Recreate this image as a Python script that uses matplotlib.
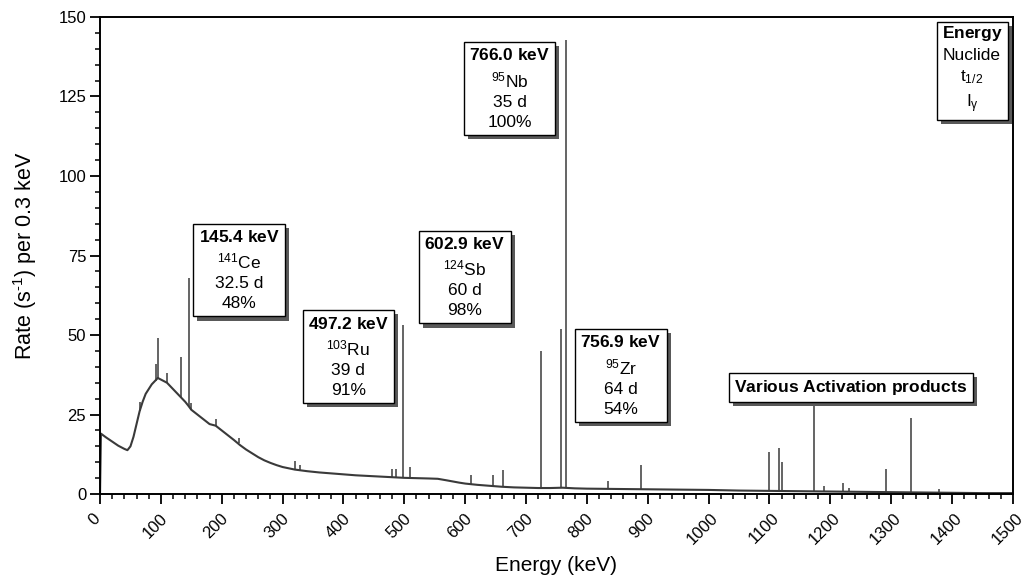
import numpy as np
import matplotlib
matplotlib.use("Agg")
import matplotlib.pyplot as plt
import matplotlib.patheffects as pe
import matplotlib.transforms as mtransforms

plt.rcParams['font.family'] = ['Liberation Sans', 'DejaVu Sans']
plt.rcParams['mathtext.fontset'] = 'custom'
plt.rcParams['mathtext.rm'] = 'Liberation Sans'
plt.rcParams['mathtext.it'] = 'Liberation Sans:italic'
plt.rcParams['mathtext.bf'] = 'Liberation Sans:bold'

# smooth continuum (keV, counts/s per 0.3 keV)
cont_energy = [0, 1.5, 5, 10, 20, 30, 40, 45, 50, 55, 60, 65, 70, 75, 80, 85, 90, 95,
               100, 110, 120, 130, 140, 145, 150, 160, 170, 180, 190, 200, 210, 220,
               230, 240, 250, 260, 270, 280, 290, 300, 320, 340, 360, 380, 400, 420,
               440, 460, 480, 500, 520, 540, 555, 570, 590, 600, 620, 640, 660, 680,
               700, 720, 740, 760, 780, 800, 850, 900, 950, 1000, 1050, 1100, 1150,
               1200, 1250, 1300, 1350, 1400, 1450, 1500]
cont_rate = [0, 19, 18.5, 17.8, 16.5, 15.2, 14.2, 13.8, 15, 18, 22, 26, 29, 31.5, 33,
             34.5, 35.5, 36.5, 36, 35, 33, 31, 29, 27.8, 26.5, 25, 23.5, 22, 21.5, 20,
             18.5, 17, 15.4, 14, 12.8, 11.6, 10.6, 9.8, 9.1, 8.5, 7.7, 7.2, 6.8, 6.5,
             6.2, 5.9, 5.7, 5.5, 5.3, 5.1, 5.0, 4.9, 4.8, 4.3, 3.6, 3.3, 2.9, 2.6, 2.3,
             2.1, 2.0, 1.9, 1.9, 2.0, 1.8, 1.7, 1.6, 1.5, 1.4, 1.3, 1.1, 1.0, 0.9, 0.8,
             0.7, 0.6, 0.5, 0.4, 0.3, 0.3]

# photopeaks: energy, continuum under peak, peak top
peak_energy = [66, 92, 95.5, 110, 133, 145.4, 150, 190, 228, 320, 328, 480, 487,
               497.2, 510, 610, 645, 662, 724.2, 756.9, 766.0, 835, 889, 1099,
               1115.5, 1121, 1173.2, 1189, 1221, 1231, 1292, 1332.5, 1378]
peak_base = [26, 35.5, 36.3, 35, 30.5, 27.8, 26.5, 21.5, 16, 7.7, 7.5, 5.3, 5.3,
             5.1, 5.0, 3.1, 2.5, 2.3, 1.9, 2.0, 2.0, 1.6, 1.5, 1.0,
             1.0, 1.0, 0.9, 0.8, 0.8, 0.8, 0.6, 0.6, 0.4]
peak_top = [29, 41, 49, 38, 43, 68, 28.5, 23.5, 17.5, 10.5, 9, 8, 7.8,
            53, 8.5, 6, 6, 7.5, 45, 52, 142.6, 4.2, 9, 13.2,
            14.6, 10.2, 28.7, 2.4, 3.5, 2.0, 8, 24, 1.5]

# label boxes: text, x, y (data coords)
labels = [
    (r"$\mathbf{145.4\ keV}$" + "\n" + r"$^{141}$Ce" + "\n32.5 d\n48%", 228.5, 70.4),
    (r"$\mathbf{497.2\ keV}$" + "\n" + r"$^{103}$Ru" + "\n39 d\n91%", 408, 43.2),
    (r"$\mathbf{602.9\ keV}$" + "\n" + r"$^{124}$Sb" + "\n60 d\n98%", 599.6, 68.2),
    (r"$\mathbf{766.0\ keV}$" + "\n" + r"$^{95}$Nb" + "\n35 d\n100%", 672.8, 127.5),
    (r"$\mathbf{756.9\ keV}$" + "\n" + r"$^{95}$Zr" + "\n64 d\n54%", 856, 37.3),
    (r"$\mathbf{Various\ Activation\ products}$", 1234, 33.5),
    (r"$\mathbf{Energy}$" + "\nNuclide\n" + r"$\mathrm{t}_{1/2}$" + "\n" + r"$\mathrm{I}_{\mathrm{γ}}$", 1433, 133.5),
]

fig = plt.figure(figsize=(10.28, 5.84), dpi=100)
ax = fig.add_axes([0.0973, 0.154, 0.888, 0.817])

ax.plot(cont_energy, cont_rate, color='#3a3a3a', lw=1.5)
ax.vlines(peak_energy, peak_base, peak_top, color='#3a3a3a', lw=1.1)

ax.set_xlim(0, 1500)
ax.set_ylim(0, 150)
ax.set_xticks(np.arange(0, 1501, 100))
ax.set_xticks(np.arange(0, 1501, 20), minor=True)
ax.set_yticks(np.arange(0, 151, 25))
ax.set_yticks(np.arange(0, 151, 5), minor=True)
ax.tick_params(which='major', direction='out', length=7, width=1.3, labelsize=12)
ax.tick_params(which='minor', direction='out', length=3.5, width=1.1)
ax.tick_params(axis='x', labelsize=12, pad=5)
ax.tick_params(axis='y', pad=3)
shift = mtransforms.ScaledTranslation(-4 / 72, 0, fig.dpi_scale_trans)
for lab in ax.get_xticklabels():
    lab.set_rotation(45)
    lab.set_ha('center')
    lab.set_transform(lab.get_transform() + shift)
for s in ax.spines.values():
    s.set_linewidth(1.4)

ax.set_xlabel("Energy (keV)", fontsize=15, labelpad=6)
ax.set_ylabel(r"Rate (s$^{\text{-1}}$) per 0.3 keV", fontsize=15.5, labelpad=14)

for txt, x, y in labels:
    t = ax.text(x, y, txt, ha='center', va='center', multialignment='center',
                fontsize=12.5, linespacing=1.4,
                bbox=dict(boxstyle='square,pad=0.3', fc='white', ec='black', lw=1.0))
    t.get_bbox_patch().set_path_effects([
        pe.SimplePatchShadow(offset=(3, -3), shadow_rgbFace='0.35', alpha=1),
        pe.Normal()])

fig.savefig("out.png", dpi=100)
